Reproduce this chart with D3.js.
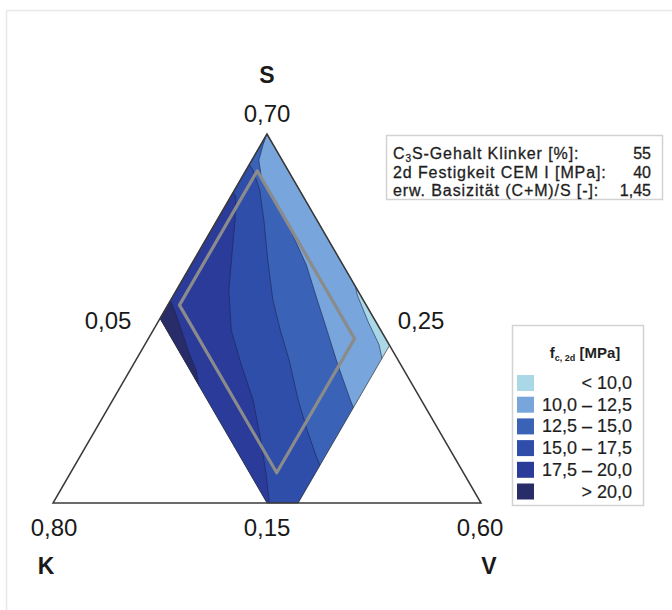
<!DOCTYPE html>
<html lang="de">
<head>
<meta charset="UTF-8">
<title>Ternäres Diagramm f_c,2d</title>
<script src="https://d3js.org/d3.v7.min.js"></script>
<style>
  body { margin: 0; background: #fff; }
  svg { font-family: "Liberation Sans", Arial, Helvetica, sans-serif; }
</style>
</head>
<body>
<svg id="chart" width="672" height="610"></svg>
<script>
// Sub-triangle ranges (mass fractions) of the three components
const sRange = [0.15, 0.70];
const kRange = [0.25, 0.80];
const vRange = [0.05, 0.60];

const cornerNames = ["S", "K", "V"];
const cornerTicks = ["0,70", "0,80", "0,60"];
// constant value of the edge: K-S edge (V), S-V edge (K), K-V edge (S)
const edgeTicks = ["0,05", "0,25", "0,15"];

// evaluated region, [S, V] pairs
const region = [[0.70, 0.05], [0.425, 0.05], [0.15, 0.325], [0.15, 0.365], [0.385, 0.365]];
// grey frame (practical range), [S, V] pairs
const frame = [[0.645, 0.065], [0.445, 0.065], [0.195, 0.315], [0.395, 0.315]];

// isolines of f_c,2d, [S, V] pairs, top to bottom
const thresholds = [10, 12.5, 15, 17.5, 20];
const iso10 = [[0.713, 0.075], [0.509, 0.252], [0.460, 0.286], [0.420, 0.320], [0.386, 0.351], [0.345, 0.379], [0.132, 0.505]];
const iso12_5 = [[0.713, 0.047], [0.684, 0.053], [0.661, 0.059], [0.634, 0.076], [0.609, 0.102], [0.579, 0.132], [0.542, 0.165],
                 [0.505, 0.198], [0.453, 0.238], [0.408, 0.273], [0.356, 0.313], [0.304, 0.355], [0.259, 0.393], [0.132, 0.486]];
const iso15 = [[0.669, 0.035], [0.646, 0.059], [0.617, 0.082], [0.572, 0.110], [0.512, 0.145], [0.453, 0.181], [0.408, 0.213],
               [0.363, 0.247], [0.304, 0.288], [0.259, 0.322], [0.219, 0.354], [0.177, 0.390], [0.132, 0.423]];
const iso17_5 = [[0.631, 0.034], [0.606, 0.057], [0.572, 0.073], [0.527, 0.092], [0.468, 0.117], [0.408, 0.150], [0.356, 0.189],
                 [0.304, 0.230], [0.244, 0.270], [0.192, 0.303], [0.150, 0.328], [0.128, 0.341]];
const iso20 = [[0.465, 0.038], [0.438, 0.062], [0.408, 0.086], [0.375, 0.112], [0.348, 0.135], [0.315, 0.156]];
const isolines = [iso10, iso12_5, iso15, iso17_5, iso20];

const bandLabels = ["< 10,0", "10,0 \u2013 12,5", "12,5 \u2013 15,0", "15,0 \u2013 17,5", "17,5 \u2013 20,0", "> 20,0"];
const bandColors = ["#aad8e6", "#78a6dc", "#3a63b7", "#2f4eaa", "#2b3b9a", "#282c68"];

const infoLabels = ["S-Gehalt Klinker [%]:", "2d Festigkeit CEM I [MPa]:", "erw. Basizit\u00e4t (C+M)/S [-]:"];
const infoValues = ["55", "40", "1,45"];

const svg = d3.select("#chart");

// ternary projection: S share -> height, V share -> along base
const aScale = d3.scaleLinear().domain(sRange).range([0, 1]);
const cScale = d3.scaleLinear().domain(vRange).range([0, 1]);
const xScale = d3.scaleLinear().domain([0, 1]).range([53, 481]);
const yScale = d3.scaleLinear().domain([0, 1]).range([503, 134]);
function proj(d) {
    const a = aScale(d[0]), c = cScale(d[1]);
    return [xScale(c + a / 2), yScale(a)];
}
const corners = [[sRange[1], vRange[0]], [sRange[0], vRange[0]], [sRange[0], vRange[1]]].map(proj); // S, K, V

// outer faint frame
svg.append("rect").attr("x", 6.5).attr("y", 10.5).attr("width", 720).attr("height", 700)
    .attr("fill", "none").attr("stroke", "#e8e8e8").attr("stroke-width", 1.5);

const line = d3.line();
svg.append("clipPath").attr("id", "regionClip")
    .append("path").attr("d", line(region.map(proj)) + "Z");

const g = svg.append("g").attr("clip-path", "url(#regionClip)");
g.append("path").attr("d", line(region.map(proj)) + "Z").attr("fill", bandColors[0]);

// band above each threshold = area left of its isoline
isolines.forEach((iso, i) => {
    const pts = iso.map(proj);
    const poly = [[-30, pts[0][1]], ...pts, [-30, pts[pts.length - 1][1]]];
    g.append("path").attr("d", line(poly) + "Z").attr("fill", bandColors[i + 1]);
});
isolines.forEach(iso => {
    g.append("path").attr("d", line(iso.map(proj)))
        .attr("fill", "none").attr("stroke", "#1d2450").attr("stroke-opacity", 0.75).attr("stroke-width", 0.8);
});

svg.append("path").attr("d", line(region.map(proj)) + "Z")
    .attr("fill", "none").attr("stroke", "#333").attr("stroke-width", 0.7);

svg.append("path").attr("d", line(frame.map(proj)) + "Z")
    .attr("fill", "none").attr("stroke", "#8b8b8b").attr("stroke-width", 3.2).attr("stroke-linejoin", "round");

svg.append("path").attr("d", line(corners) + "Z")
    .attr("fill", "none").attr("stroke", "#3a3a3a").attr("stroke-width", 1.5).attr("stroke-linejoin", "miter");

// axis labels
const numSize = 24, nameSize = 23;
const cornerTickPos = [[267, 113], [54, 527], [480, 527]];
const cornerNamePos = [[267, 75], [46, 566], [489, 566]];
const edgeTickPos = [[108, 320], [421, 320], [267, 527]];
cornerTicks.forEach((t, i) => {
    svg.append("text").attr("x", cornerTickPos[i][0]).attr("y", cornerTickPos[i][1] + numSize * 0.36)
        .attr("text-anchor", "middle").attr("font-size", numSize).attr("fill", "#1a1a1a").text(t);
    svg.append("text").attr("x", cornerNamePos[i][0]).attr("y", cornerNamePos[i][1] + nameSize * 0.36)
        .attr("text-anchor", "middle").attr("font-size", nameSize).attr("font-weight", "bold").attr("fill", "#1a1a1a").text(cornerNames[i]);
});
edgeTicks.forEach((t, i) => {
    svg.append("text").attr("x", edgeTickPos[i][0]).attr("y", edgeTickPos[i][1] + numSize * 0.36)
        .attr("text-anchor", "middle").attr("font-size", numSize).attr("fill", "#1a1a1a").text(t);
});

// info box
svg.append("rect").attr("x", 386.5).attr("y", 135.5).attr("width", 276).attr("height", 64)
    .attr("fill", "#fff").attr("stroke", "#d2d2d2").attr("stroke-width", 1.5);
infoLabels.forEach((t, i) => {
    const y = 159 + i * 18.5;
    const txt = svg.append("text").attr("x", 393).attr("y", y).attr("font-size", 16)
        .attr("letter-spacing", 0.9).attr("fill", "#1e1e1e").attr("stroke", "#1e1e1e").attr("stroke-width", 0.3);
    if (i === 0) {
        txt.append("tspan").text("C");
        txt.append("tspan").attr("font-size", 10).attr("dy", 3).text("3");
        txt.append("tspan").attr("dy", -3).text(t);
    } else {
        txt.text(t);
    }
    svg.append("text").attr("x", 651).attr("y", y).attr("text-anchor", "end").attr("font-size", 16)
        .attr("fill", "#1e1e1e").attr("stroke", "#1e1e1e").attr("stroke-width", 0.3).text(infoValues[i]);
});

// legend
svg.append("rect").attr("x", 512.5).attr("y", 325.5).attr("width", 131).attr("height", 180)
    .attr("fill", "#fff").attr("stroke", "#d2d2d2").attr("stroke-width", 1.5);
const title = svg.append("text").attr("x", 585).attr("y", 358).attr("text-anchor", "middle")
    .attr("font-size", 15).attr("font-weight", "bold").attr("fill", "#1e1e1e");
title.append("tspan").text("f");
title.append("tspan").attr("font-size", 9).attr("dy", 3).text("c, 2d");
title.append("tspan").attr("dy", -3).text(" [MPa]");

const rowY = d3.scaleLinear().domain([0, bandLabels.length - 1]).range([383, 491.5]);
bandLabels.forEach((t, i) => {
    svg.append("rect").attr("x", 517).attr("y", rowY(i) - 8).attr("width", 17).attr("height", 16)
        .attr("fill", bandColors[i]);
    svg.append("text").attr("x", 632).attr("y", rowY(i) + 6).attr("text-anchor", "end")
        .attr("font-size", 18).attr("fill", "#1e1e1e").attr("stroke", "#1e1e1e").attr("stroke-width", 0.2).text(t);
});
</script>
</body>
</html>
